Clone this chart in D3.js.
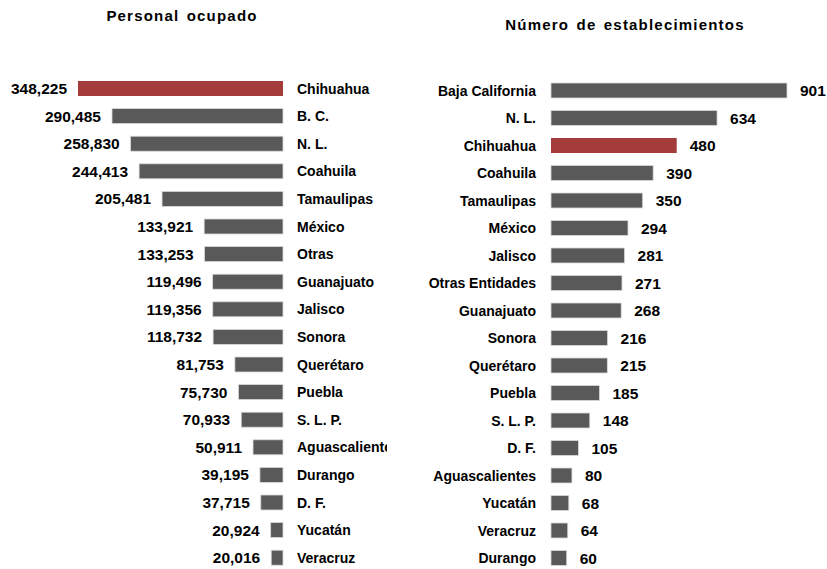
<!DOCTYPE html>
<html>
<head>
<meta charset="utf-8">
<script src="https://cdn.jsdelivr.net/npm/d3@7"></script>
<style>
  html, body { margin: 0; padding: 0; background: #ffffff; }
  svg { display: block; }
  text { font-family: "Liberation Sans", Arial, sans-serif; fill: #000; }
</style>
</head>
<body>
<svg id="chart" width="827" height="569"></svg>
<script>
// ---- Data ----
const leftTitle = "Personal ocupado";
const leftCategories = ["Chihuahua","B. C.","N. L.","Coahuila","Tamaulipas","México","Otras","Guanajuato","Jalisco","Sonora","Querétaro","Puebla","S. L. P.","Aguascalientes","Durango","D. F.","Yucatán","Veracruz"];
const leftValues = [348225,290485,258830,244413,205481,133921,133253,119496,119356,118732,81753,75730,70933,50911,39195,37715,20924,20016];
const leftHighlight = "Chihuahua";

const rightTitle = "Número de establecimientos";
const rightCategories = ["Baja California","N. L.","Chihuahua","Coahuila","Tamaulipas","México","Jalisco","Otras Entidades","Guanajuato","Sonora","Querétaro","Puebla","S. L. P.","D. F.","Aguascalientes","Yucatán","Veracruz","Durango"];
const rightValues = [901,634,480,390,350,294,281,271,268,216,215,185,148,105,80,68,64,60];
const rightHighlight = "Chihuahua";

// ---- Styles ----
const GRAY = "#595959";
const RED = "#A33C3A";
const STROKE = "#d9d9d9";

const svg = d3.select("#chart");
const fmt = d3.format(",");

// ================= LEFT PANEL =================
const leftData = leftCategories.map((c, i) => ({ c, v: leftValues[i] }));
const L_END = 283;
const xL = d3.scaleLinear().domain([0, d3.max(leftValues)]).range([0, 205]);
const yL = d3.scaleBand().domain(leftCategories)
  .range([74.7, 74.7 + 18 * 27.6]).paddingInner(0.457).paddingOuter(0.2285);

svg.append("defs").append("clipPath").attr("id", "clipL")
  .append("rect").attr("x", 0).attr("y", 0).attr("width", 387).attr("height", 569);

const gL = svg.append("g").attr("clip-path", "url(#clipL)");

gL.append("text").attr("x", 182).attr("y", 21).attr("text-anchor", "middle")
  .style("font-size", "15px").style("font-weight", "bold").style("letter-spacing", "1.2px")
  .style("word-spacing", "2px").text(leftTitle);

gL.selectAll("rect.bar").data(leftData).join("rect").attr("class", "bar")
  .attr("x", d => L_END - xL(d.v)).attr("y", d => yL(d.c))
  .attr("width", d => xL(d.v)).attr("height", yL.bandwidth())
  .attr("fill", d => d.c === leftHighlight ? RED : GRAY)
  .attr("stroke", d => d.c === leftHighlight ? "none" : STROKE).attr("stroke-width", 0.8);

gL.selectAll("text.val").data(leftData).join("text").attr("class", "val")
  .attr("x", d => L_END - xL(d.v) - 11).attr("y", d => yL(d.c) + yL.bandwidth() / 2)
  .attr("dy", "0.36em").attr("text-anchor", "end")
  .style("font-size", "15.5px").style("font-weight", "bold")
  .text(d => fmt(d.v));

gL.selectAll("text.cat").data(leftData).join("text").attr("class", "cat")
  .attr("x", L_END + 14).attr("y", d => yL(d.c) + yL.bandwidth() / 2)
  .attr("dy", "0.36em").attr("text-anchor", "start")
  .style("font-size", "14px").style("font-weight", "bold")
  .text(d => d.c);

// ================= RIGHT PANEL =================
const rightData = rightCategories.map((c, i) => ({ c, v: rightValues[i] }));
const R_START = 551;
const xR = d3.scaleLinear().domain([0, d3.max(rightValues)]).range([0, 236]);
const yR = d3.scaleBand().domain(rightCategories)
  .range([76.75, 76.75 + 18 * 27.5]).paddingInner(0.455).paddingOuter(0.2275);

const gR = svg.append("g");

gR.append("text").attr("x", 625).attr("y", 30).attr("text-anchor", "middle")
  .style("font-size", "15px").style("font-weight", "bold").style("letter-spacing", "1.2px")
  .style("word-spacing", "2px").text(rightTitle);

gR.selectAll("rect.bar").data(rightData).join("rect").attr("class", "bar")
  .attr("x", R_START).attr("y", d => yR(d.c))
  .attr("width", d => xR(d.v)).attr("height", yR.bandwidth())
  .attr("fill", d => d.c === rightHighlight ? RED : GRAY)
  .attr("stroke", d => d.c === rightHighlight ? "none" : STROKE).attr("stroke-width", 0.8);

gR.selectAll("text.val").data(rightData).join("text").attr("class", "val")
  .attr("x", d => R_START + xR(d.v) + 13).attr("y", d => yR(d.c) + yR.bandwidth() / 2)
  .attr("dy", "0.36em").attr("text-anchor", "start")
  .style("font-size", "15.5px").style("font-weight", "bold")
  .text(d => fmt(d.v));

gR.selectAll("text.cat").data(rightData).join("text").attr("class", "cat")
  .attr("x", R_START - 15).attr("y", d => yR(d.c) + yR.bandwidth() / 2)
  .attr("dy", "0.36em").attr("text-anchor", "end")
  .style("font-size", "14px").style("font-weight", "bold")
  .text(d => d.c);
</script>
</body>
</html>
